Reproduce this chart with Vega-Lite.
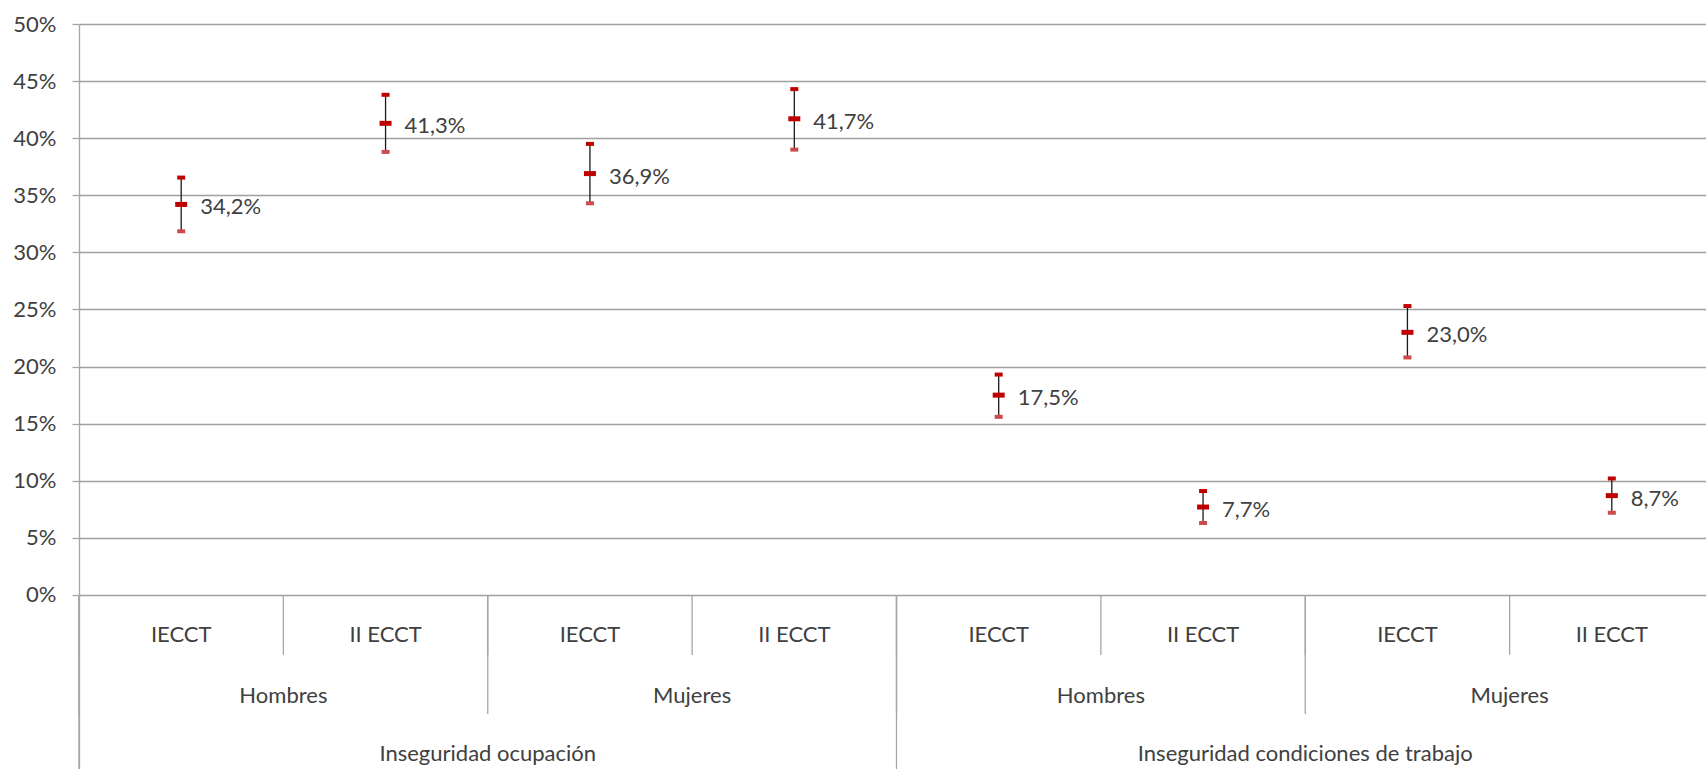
{
  "$schema": "https://vega.github.io/schema/vega-lite/v6.json",
  "width": 1627,
  "height": 745,
  "autosize": {"type": "none"},
  "padding": {"left": 79, "top": 24, "right": 0, "bottom": 0},
  "background": "#ffffff",
  "config": {
    "locale": {"number": {"decimal": ",", "thousands": ".", "grouping": [3], "currency": ["", " €"]}},
    "view": {"stroke": null},
    "font": "Lato",
    "text": {"font": "Lato", "fontSize": 22, "fill": "#404040"}
  },
  "data": {
    "values": [
      {"columna": "IO-H-1", "dimension": "Inseguridad ocupación", "sexo": "Hombres", "medicion": "IECCT", "valor": 0.342, "inferior": 0.3185, "superior": 0.3655},
      {"columna": "IO-H-2", "dimension": "Inseguridad ocupación", "sexo": "Hombres", "medicion": "II ECCT", "valor": 0.413, "inferior": 0.388, "superior": 0.438},
      {"columna": "IO-M-1", "dimension": "Inseguridad ocupación", "sexo": "Mujeres", "medicion": "IECCT", "valor": 0.369, "inferior": 0.343, "superior": 0.395},
      {"columna": "IO-M-2", "dimension": "Inseguridad ocupación", "sexo": "Mujeres", "medicion": "II ECCT", "valor": 0.417, "inferior": 0.390, "superior": 0.443},
      {"columna": "IC-H-1", "dimension": "Inseguridad condiciones de trabajo", "sexo": "Hombres", "medicion": "IECCT", "valor": 0.175, "inferior": 0.156, "superior": 0.193},
      {"columna": "IC-H-2", "dimension": "Inseguridad condiciones de trabajo", "sexo": "Hombres", "medicion": "II ECCT", "valor": 0.077, "inferior": 0.063, "superior": 0.091},
      {"columna": "IC-M-1", "dimension": "Inseguridad condiciones de trabajo", "sexo": "Mujeres", "medicion": "IECCT", "valor": 0.230, "inferior": 0.208, "superior": 0.253},
      {"columna": "IC-M-2", "dimension": "Inseguridad condiciones de trabajo", "sexo": "Mujeres", "medicion": "II ECCT", "valor": 0.087, "inferior": 0.072, "superior": 0.102}
    ]
  },
  "encoding": {
    "x": {
      "field": "columna",
      "type": "nominal",
      "scale": {
        "domain": ["IO-H-1", "IO-H-2", "IO-M-1", "IO-M-2", "IC-H-1", "IC-H-2", "IC-M-1", "IC-M-2"],
        "range": [0, 1635],
        "paddingInner": 0,
        "paddingOuter": 0
      },
      "axis": null
    }
  },
  "layer": [
    {
      "mark": {"type": "rule", "color": "#a6a6a6", "strokeWidth": 1.3},
      "encoding": {
        "x": {"field": "columna", "type": "nominal", "bandPosition": 0},
        "y": {"datum": 0, "type": "quantitative", "scale": {"domain": [-0.1524, 0.5], "nice": false, "zero": false}, 
          "axis": {
            "values": [0, 0.05, 0.1, 0.15, 0.2, 0.25, 0.3, 0.35, 0.4, 0.45, 0.5],
            "format": ".0%",
            "title": null,
            "grid": true,
            "gridColor": "#a0a0a0",
            "gridWidth": 1.3,
            "domainColor": "#a6a6a6",
            "domainWidth": 1.3,
            "tickColor": "#a6a6a6",
            "tickWidth": 1.3,
            "tickSize": 7,
            "labelPadding": 16,
            "labelFont": "Lato",
            "labelFontSize": 22,
            "labelColor": "#404040"
          }
        },
        "y2": {"datum": -0.0525}
      }
    },
    {
      "transform": [{"filter": "datum.medicion == 'IECCT'"}],
      "mark": {"type": "rule", "color": "#a6a6a6", "strokeWidth": 1.3},
      "encoding": {
        "x": {"field": "columna", "type": "nominal", "bandPosition": 0},
        "y": {"datum": 0, "type": "quantitative"},
        "y2": {"datum": -0.1042}
      }
    },
    {
      "transform": [{"filter": "datum.medicion == 'IECCT' && datum.sexo == 'Hombres'"}],
      "mark": {"type": "rule", "color": "#a6a6a6", "strokeWidth": 1.3},
      "encoding": {
        "x": {"field": "columna", "type": "nominal", "bandPosition": 0},
        "y": {"datum": 0, "type": "quantitative"},
        "y2": {"datum": -0.1524}
      }
    },
    {
      "mark": {"type": "text", "baseline": "middle", "align": "center"},
      "encoding": {
        "text": {"field": "medicion"},
        "y": {"datum": -0.035, "type": "quantitative"}
      }
    },
    {
      "transform": [{"filter": "datum.medicion == 'IECCT'"}],
      "mark": {"type": "text", "baseline": "middle", "align": "center"},
      "encoding": {
        "x": {"field": "columna", "type": "nominal", "bandPosition": 1},
        "text": {"field": "sexo"},
        "y": {"datum": -0.0884, "type": "quantitative"}
      }
    },
    {
      "transform": [{"filter": "datum.medicion == 'II ECCT' && datum.sexo == 'Hombres'"}],
      "mark": {"type": "text", "baseline": "middle", "align": "center"},
      "encoding": {
        "x": {"field": "columna", "type": "nominal", "bandPosition": 1},
        "text": {"field": "dimension"},
        "y": {"datum": -0.1392, "type": "quantitative"}
      }
    },
    {
      "mark": {"type": "rule", "color": "#1a1a1a", "strokeWidth": 1.3},
      "encoding": {
        "y": {"field": "inferior", "type": "quantitative"},
        "y2": {"field": "superior"}
      }
    },
    {
      "mark": {"type": "tick", "orient": "horizontal", "color": "#c00000", "size": 8, "thickness": 4, "opacity": 1},
      "encoding": {
        "y": {"field": "superior", "type": "quantitative"}
      }
    },
    {
      "mark": {"type": "tick", "orient": "horizontal", "color": "#cd4b4b", "size": 8, "thickness": 4, "opacity": 1},
      "encoding": {
        "y": {"field": "inferior", "type": "quantitative"}
      }
    },
    {
      "mark": {"type": "tick", "orient": "horizontal", "color": "#c00000", "size": 12, "thickness": 5, "opacity": 1},
      "encoding": {
        "y": {"field": "valor", "type": "quantitative"}
      }
    },
    {
      "mark": {"type": "text", "align": "left", "baseline": "middle", "dx": 19, "dy": 3},
      "encoding": {
        "y": {"field": "valor", "type": "quantitative"},
        "text": {"field": "valor", "type": "quantitative", "format": ".1%"}
      }
    }
  ]
}
